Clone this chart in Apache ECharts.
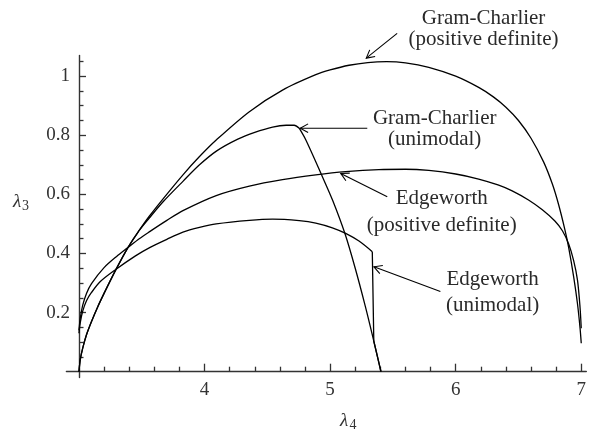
<!DOCTYPE html>
<html><head><meta charset="utf-8">
<script src="https://cdn.jsdelivr.net/npm/echarts@6/dist/echarts.min.js"></script>
<style>html,body{margin:0;padding:0;background:#fff}#c{width:589px;height:434px}</style>
</head><body><div id="c"></div>
<script>
// ---- data ----
const gcPosX = [3.0, 3.01, 3.03, 3.06, 3.1, 3.15, 3.2, 3.29, 3.39, 3.48, 3.56, 3.67, 3.83, 3.96, 4.093, 4.357, 4.621, 4.886, 5.0, 5.151, 5.3, 5.45, 5.6, 5.786, 6.0, 6.183, 6.3, 6.4, 6.5, 6.6, 6.7, 6.77, 6.82, 6.87, 6.9, 6.94, 6.97, 6.99, 7.0];
const gcPosY = [0, 0.04, 0.08, 0.125, 0.17, 0.22, 0.265, 0.342, 0.42, 0.478, 0.526, 0.585, 0.667, 0.728, 0.784, 0.880, 0.953, 1.005, 1.021, 1.037, 1.046, 1.049, 1.045, 1.03, 1.0, 0.962, 0.93, 0.895, 0.85, 0.79, 0.71, 0.635, 0.565, 0.48, 0.42, 0.32, 0.23, 0.15, 0.096];

const gcUniRiseX = [3.0, 3.01, 3.03, 3.06, 3.1, 3.15, 3.2, 3.29, 3.39, 3.48, 3.56, 3.67, 3.83, 3.96, 4.1, 4.265, 4.4, 4.542, 4.65, 4.714, 4.754];
const gcUniRiseY = [0, 0.04, 0.08, 0.125, 0.17, 0.22, 0.265, 0.342, 0.42, 0.478, 0.52, 0.575, 0.645, 0.70, 0.748, 0.787, 0.81, 0.828, 0.834, 0.834, 0.824];
const gcUniFallX = [4.754, 4.807, 4.93, 5.02, 5.12, 5.2, 5.28, 5.34, 5.405];
const gcUniFallY = [0.824, 0.784, 0.668, 0.58, 0.465, 0.35, 0.222, 0.118, 0.0];

const edPosX = [3.0, 3.01, 3.03, 3.06, 3.1, 3.2, 3.3, 3.39, 3.48, 3.563, 3.7, 3.828, 4.093, 4.357, 4.621, 4.886, 5.124, 5.389, 5.6, 5.786, 6.0, 6.183, 6.337, 6.45, 6.58, 6.69, 6.79, 6.85, 6.9, 6.94, 6.97, 6.99, 7.0];
const edPosY = [0.14, 0.18, 0.225, 0.265, 0.298, 0.352, 0.39, 0.42, 0.45, 0.474, 0.512, 0.545, 0.596, 0.628, 0.65, 0.666, 0.677, 0.684, 0.685, 0.681, 0.669, 0.652, 0.632, 0.612, 0.581, 0.548, 0.51, 0.477, 0.432, 0.375, 0.31, 0.22, 0.147];

const edUniX = [3.0, 3.01, 3.03, 3.06, 3.1, 3.17, 3.29, 3.45, 3.563, 3.7, 3.828, 3.96, 4.093, 4.357, 4.542, 4.754, 4.886, 5.018, 5.124, 5.23, 5.336];
const edUniY = [0.13, 0.165, 0.205, 0.24, 0.268, 0.305, 0.345, 0.392, 0.42, 0.448, 0.472, 0.488, 0.5, 0.512, 0.516, 0.511, 0.503, 0.487, 0.468, 0.442, 0.406];
const edUniDropX = [5.336, 5.348, 5.405];
const edUniDropY = [0.406, 0.103, 0.0];

const xTickLabels = [4, 5, 6, 7];
const xMinorTicks = [3.2, 3.4, 3.6, 3.8, 4.2, 4.4, 4.6, 4.8, 5.2, 5.4, 5.6, 5.8, 6.2, 6.4, 6.6, 6.8];
const yTickLabels = [0.2, 0.4, 0.6, 0.8, 1];
const yMinorTicks = [0.05, 0.1, 0.15, 0.25, 0.3, 0.35, 0.45, 0.5, 0.55, 0.65, 0.7, 0.75, 0.85, 0.9, 0.95, 1.05];

const annotations = [
  {lines: ['Gram-Charlier', '(positive definite)'], at: [6.222, 1.195, 1.124], tail: [5.534, 1.145], tip: [5.288, 1.061]},
  {lines: ['Gram-Charlier', '(unimodal)'], at: [5.833, 0.857, 0.786], tail: [5.296, 0.824], tip: [4.762, 0.824]},
  {lines: ['Edgeworth', '(positive definite)'], at: [5.889, 0.586, 0.495], tail: [5.455, 0.592], tip: [5.085, 0.671]},
  {lines: ['Edgeworth', '(unimodal)'], at: [6.294, 0.312, 0.224], tail: [5.878, 0.271], tip: [5.349, 0.355]}
];

// ---- chart ----
const pts = (xs, ys) => xs.map((x, i) => [x, ys[i]]);
const FONT = '"Liberation Serif", "Times New Roman", serif';
const AX = '#333';
const curve = (name, data, smooth) => ({
  type: 'line', name, data, smooth, symbol: 'none', silent: true,
  lineStyle: {color: '#000', width: 1.3}
});

const X0 = 2.9, X1 = 7.04, Y0 = -0.02, Y1 = 1.07;
const gridLeft = 66.4, gridRight = 1, gridTop = 55.5, gridBottom = 56.4;
const xOff = -5.9, yOff = -12.6;

const chart = echarts.init(document.getElementById('c'), null, {renderer: 'canvas'});
chart.setOption({
  animation: false,
  backgroundColor: '#fff',
  grid: {left: gridLeft, right: gridRight, top: gridTop, bottom: gridBottom, containLabel: false},
  xAxis: [
    {type: 'value', min: X0, max: X1, position: 'bottom', offset: xOff,
     axisLine: {show: true, onZero: false, lineStyle: {color: AX, width: 1.4}},
     axisTick: {show: true, inside: true, length: 8, customValues: xTickLabels, lineStyle: {color: AX, width: 1.3}},
     axisLabel: {show: true, customValues: xTickLabels, margin: 9, color: '#333', fontFamily: FONT, fontSize: 19},
     splitLine: {show: false}},
    {type: 'value', min: X0, max: X1, position: 'bottom', offset: xOff,
     axisLine: {show: false, onZero: false},
     axisTick: {show: true, inside: true, length: 5, customValues: xMinorTicks, lineStyle: {color: AX, width: 1.3}},
     axisLabel: {show: false}, splitLine: {show: false}}
  ],
  yAxis: [
    {type: 'value', min: Y0, max: Y1, position: 'left', offset: yOff,
     axisLine: {show: true, onZero: false, lineStyle: {color: AX, width: 1.4}},
     axisTick: {show: true, inside: true, length: 7, customValues: yTickLabels, lineStyle: {color: AX, width: 1.3}},
     axisLabel: {show: true, customValues: yTickLabels, margin: 9, color: '#333', fontFamily: FONT, fontSize: 19},
     splitLine: {show: false}},
    {type: 'value', min: Y0, max: Y1, position: 'left', offset: yOff,
     axisLine: {show: false, onZero: false},
     axisTick: {show: true, inside: true, length: 4.5, customValues: yMinorTicks, lineStyle: {color: AX, width: 1.3}},
     axisLabel: {show: false}, splitLine: {show: false}}
  ],
  graphic: [
    {type: 'text', x: 13, y: 201.5, style: {text: 'λ', font: 'italic 19px ' + FONT, fill: '#333', verticalAlign: 'middle'}},
    {type: 'text', x: 22, y: 206, style: {text: '3', font: '14px ' + FONT, fill: '#333', verticalAlign: 'middle'}},
    {type: 'text', x: 340, y: 421, style: {text: 'λ', font: 'italic 19px ' + FONT, fill: '#333', verticalAlign: 'middle'}},
    {type: 'text', x: 349.5, y: 425.5, style: {text: '4', font: '14px ' + FONT, fill: '#333', verticalAlign: 'middle'}}
  ],
  series: [
    curve('Gram-Charlier (positive definite)', pts(gcPosX, gcPosY), 0.3),
    curve('Gram-Charlier (unimodal)', pts(gcUniRiseX, gcUniRiseY), 0.3),
    curve('Gram-Charlier (unimodal) fall', pts(gcUniFallX, gcUniFallY), 0.3),
    curve('Edgeworth (positive definite)', pts(edPosX, edPosY), 0.3),
    curve('Edgeworth (unimodal)', pts(edUniX, edUniY), 0.3),
    curve('Edgeworth (unimodal) drop', pts(edUniDropX, edUniDropY), false),
    {
      type: 'custom', silent: true, clip: false,
      data: annotations.map(a => [a.tip[0], a.tip[1]]),
      renderItem: function (params, api) {
        const a = annotations[params.dataIndex];
        const p1 = api.coord(a.tail), p2 = api.coord(a.tip);
        const dx = p1[0] - p2[0], dy = p1[1] - p2[1];
        const L = Math.sqrt(dx * dx + dy * dy);
        const ux = dx / L, uy = dy / L;
        const hl = 9, ang = 0.5;
        const c = Math.cos(ang), s = Math.sin(ang);
        const h1 = [p2[0] + hl * (ux * c - uy * s), p2[1] + hl * (ux * s + uy * c)];
        const h2 = [p2[0] + hl * (ux * c + uy * s), p2[1] + hl * (-ux * s + uy * c)];
        const st = {stroke: '#000', lineWidth: 1.1, fill: null};
        const t1 = api.coord([a.at[0], a.at[1]]), t2 = api.coord([a.at[0], a.at[2]]);
        const txt = (p, text) => ({type: 'text', x: p[0], y: p[1],
          style: {text, font: '21px ' + FONT, fill: '#2a2a2a', align: 'center', verticalAlign: 'middle'}});
        return {type: 'group', children: [
          {type: 'line', shape: {x1: p1[0], y1: p1[1], x2: p2[0], y2: p2[1]}, style: st},
          {type: 'polyline', shape: {points: [h1, p2, h2]}, style: st},
          txt(t1, a.lines[0]), txt(t2, a.lines[1])
        ]};
      }
    }
  ]
});
</script></body></html>
